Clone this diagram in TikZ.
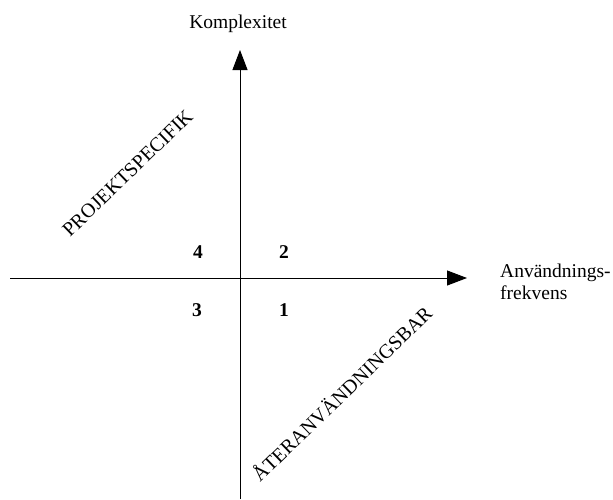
\documentclass[tikz,border=0pt]{standalone}
\usepackage{fontspec}
\setmainfont{Liberation Serif}
\usetikzlibrary{arrows.meta}

\begin{document}
\begin{tikzpicture}[
    x=1pt, y=-1pt,
    axis/.style={-{Triangle[length=20pt,width=15pt]}, line width=1pt},
    txt/.style={font=\fontsize{19.5}{22}\selectfont, inner sep=0pt},
    num/.style={txt, font=\fontsize{19.5}{22}\selectfont\bfseries},
    diag/.style={txt, font=\fontsize{20}{22}\selectfont, rotate=44, anchor=base west}
]
\useasboundingbox (0,0) rectangle (613,499);

% ── Axes ──
\coordinate (hstart) at (10,278);
\coordinate (hend) at (467,278);
\coordinate (vstart) at (240,499);
\coordinate (vend) at (240,50);
\draw[axis] (hstart) -- (hend);
\draw[axis] (vstart) -- (vend);

% ── Axis labels ──
\node[txt, anchor=base] (ylab) at (238,28) {Komplexitet};
\node[txt, anchor=base west, align=left] (xlab) at (500,299) {Användnings-\\frekvens};

% ── Quadrant numbers ──
\node[num] (q4) at (198,252) {4};
\node[num] (q2) at (284,252) {2};
\node[num] (q3) at (197,310) {3};
\node[num] (q1) at (284,310) {1};

% ── Diagonal labels ──
\node[diag] (proj) at (70,238) {PROJEKTSPECIFIK};
\node[diag] (ater) at (260,483) {ÅTERANVÄNDNINGSBAR};

\end{tikzpicture}
\end{document}
